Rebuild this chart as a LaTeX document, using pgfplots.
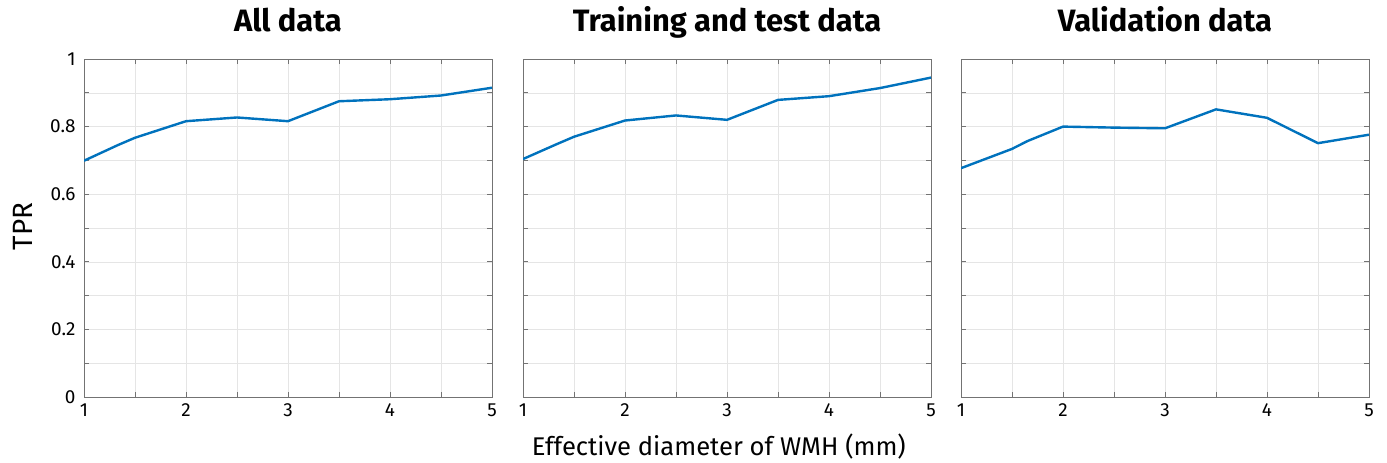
\documentclass[border=0pt]{standalone}
\usepackage{fontspec}
\setmainfont{Fira Sans}
\usepackage{pgfplots}
\pgfplotsset{compat=1.18}
\definecolor{mblue}{rgb}{0.0,0.447,0.741}
\pgfplotstableread{
x y
1 0.699
1.33 0.745
1.5 0.767
2 0.816
2.5 0.827
3 0.816
3.5 0.875
4 0.881
4.5 0.892
5 0.915
}\alldata
\pgfplotstableread{
x y
1 0.704
1.33 0.748
1.5 0.770
2 0.818
2.5 0.833
3 0.820
3.5 0.879
4 0.890
4.5 0.914
5 0.945
}\traindata
\pgfplotstableread{
x y
1 0.677
1.5 0.734
1.65 0.757
2 0.800
2.5 0.797
3 0.795
3.5 0.851
4 0.826
4.5 0.751
5 0.776
}\valdata
\pgfplotsset{
  panel/.style={
    scale only axis, width=408bp, height=338bp,
    xmin=1, xmax=5, ymin=0, ymax=1,
    xtick={1,2,3,4,5}, ytick={0,0.2,0.4,0.6,0.8,1},
    minor x tick num=1, minor y tick num=1,
    grid=both,
    major grid style={draw=black!10, line width=0.6bp},
    minor grid style={draw=black!10, line width=0.6bp},
    axis line style={draw=black!55, line width=1bp},
    tick style={draw=black!55, line width=0.8bp},
    major tick length=5bp, minor tick length=5bp,
    tick align=inside,
    /pgf/number format/assume math mode=true,
    ticklabel style={font=\fontsize{19}{21}\selectfont},
    xticklabel style={yshift=-3bp},
    yticklabel style={xshift=-5bp},
    title style={font=\fontsize{31}{34}\selectfont\bfseries, at={(0.5,1)}, anchor=base, yshift=22bp},
    anchor=north west,
  },
  dline/.style={draw=mblue, line width=2.4bp, no markers},
}
\begin{document}
\begin{tikzpicture}
\path[use as bounding box] (0,0) rectangle (1387bp,-463bp);
\begin{axis}[panel, at={(84bp,-59bp)}, title={All data},
  ylabel={TPR},
  ylabel style={font=\fontsize{28}{30}\selectfont, at={(axis description cs:-0.150,0.505)}, anchor=center}]
\addplot[dline] table[x=x,y=y] {\alldata};
\end{axis}
\begin{axis}[panel, at={(523bp,-59bp)}, title={Training and test data}, yticklabels={},
  xlabel={Effective diameter of WMH (mm)},
  xlabel style={font=\fontsize{25.7}{28}\selectfont, at={(axis description cs:0.48,-0.146)}, anchor=center}]
\addplot[dline] table[x=x,y=y] {\traindata};
\end{axis}
\begin{axis}[panel, at={(961bp,-59bp)}, title={Validation data}, yticklabels={}]
\addplot[dline] table[x=x,y=y] {\valdata};
\end{axis}
\end{tikzpicture}
\end{document}
